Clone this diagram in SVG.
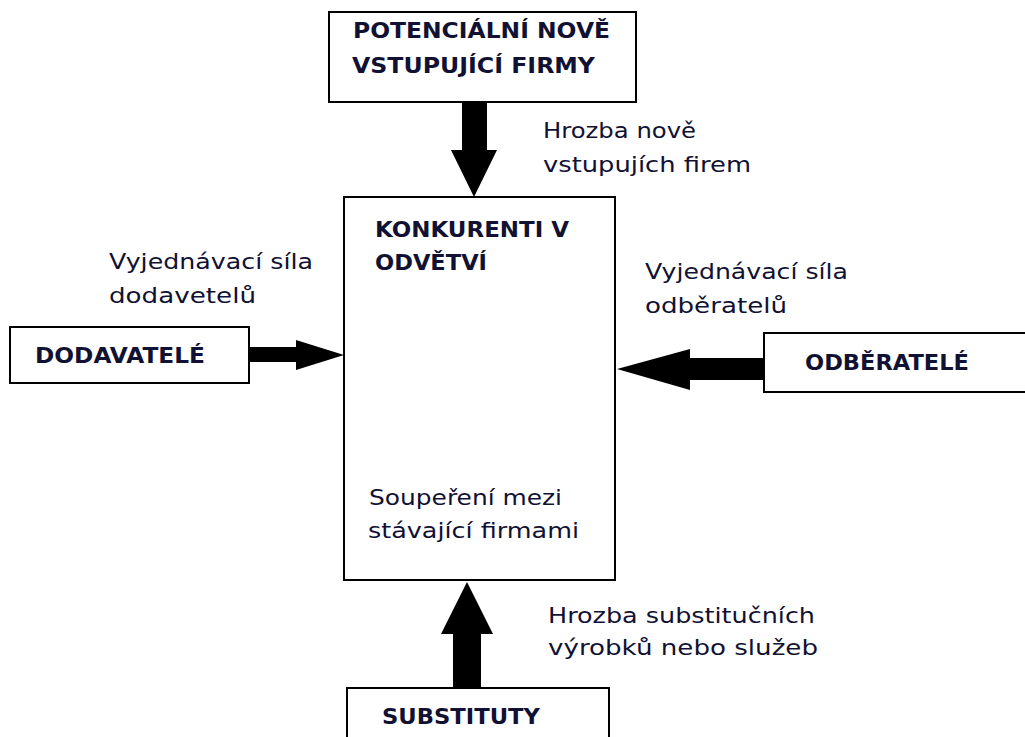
<svg xmlns="http://www.w3.org/2000/svg" width="1025" height="737" viewBox="0 0 1025 737">
<style>
.box{fill:#fff;stroke:#000;stroke-width:2}
.arr{fill:#000}
.b{font-family:"DejaVu Sans","Liberation Sans",sans-serif;font-weight:bold;font-size:22px;fill:#111133}
.l{font-family:"DejaVu Sans","Liberation Sans",sans-serif;font-size:22px;fill:#111133}
</style>
<rect width="1025" height="737" fill="#fff"/>
<g id="connectors">
<polygon class="arr" points="462,102 487,102 487,150 497,150 474,197 451,150 462,150"/>
<polygon class="arr" points="249,347 296,347 296,340 344,355 296,370 296,362 249,362"/>
<polygon class="arr" points="764,358 690,358 690,349 617,369 690,390 690,380 764,380"/>
<polygon class="arr" points="453,688 481,688 481,634 493,634 467,582 441,634 453,634"/>
</g>
<g id="potencialni">
<rect class="box" x="329" y="12" width="307" height="90"/>
<text class="b" x="353" y="38" textLength="257" lengthAdjust="spacingAndGlyphs">POTENCIÁLNÍ NOVĚ</text>
<text class="b" x="352" y="73" textLength="243" lengthAdjust="spacingAndGlyphs">VSTUPUJÍCÍ FIRMY</text>
</g>
<g id="konkurenti">
<rect class="box" x="344" y="197" width="271" height="383"/>
<text class="b" x="375" y="237" textLength="194" lengthAdjust="spacingAndGlyphs">KONKURENTI V</text>
<text class="b" x="375" y="270" textLength="112" lengthAdjust="spacingAndGlyphs">ODVĚTVÍ</text>
<text class="l" x="369" y="505" textLength="193" lengthAdjust="spacingAndGlyphs">Soupeření mezi</text>
<text class="l" x="368" y="538" textLength="211" lengthAdjust="spacingAndGlyphs">stávající firmami</text>
</g>
<g id="dodavatele">
<rect class="box" x="10" y="327" width="239" height="56"/>
<text class="b" x="35" y="363" textLength="170" lengthAdjust="spacingAndGlyphs">DODAVATELÉ</text>
</g>
<g id="odberatele">
<rect class="box" x="764" y="333" width="270" height="59"/>
<text class="b" x="805" y="370" textLength="164" lengthAdjust="spacingAndGlyphs">ODBĚRATELÉ</text>
</g>
<g id="substituty">
<rect class="box" x="347" y="688" width="262" height="60"/>
<text class="b" x="382" y="724" textLength="158" lengthAdjust="spacingAndGlyphs">SUBSTITUTY</text>
</g>
<g id="labels">
<text class="l" x="543" y="138" textLength="153" lengthAdjust="spacingAndGlyphs">Hrozba nově</text>
<text class="l" x="543" y="172" textLength="208" lengthAdjust="spacingAndGlyphs">vstupujích firem</text>
<text class="l" x="109" y="269" textLength="204" lengthAdjust="spacingAndGlyphs">Vyjednávací síla</text>
<text class="l" x="109" y="303" textLength="147" lengthAdjust="spacingAndGlyphs">dodavetelů</text>
<text class="l" x="645" y="279" textLength="203" lengthAdjust="spacingAndGlyphs">Vyjednávací síla</text>
<text class="l" x="645" y="313" textLength="142" lengthAdjust="spacingAndGlyphs">odběratelů</text>
<text class="l" x="548" y="623" textLength="267" lengthAdjust="spacingAndGlyphs">Hrozba substitučních</text>
<text class="l" x="548" y="655" textLength="270" lengthAdjust="spacingAndGlyphs">výrobků nebo služeb</text>
</g>
</svg>
